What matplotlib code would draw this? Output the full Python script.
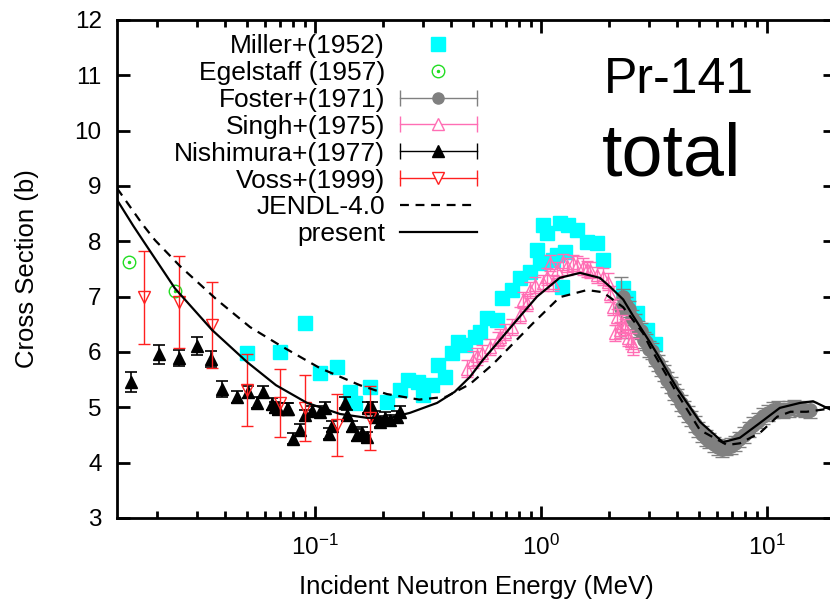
import numpy as np
import matplotlib
matplotlib.use("Agg")
import matplotlib.pyplot as plt
from matplotlib.lines import Line2D
from matplotlib.legend_handler import HandlerTuple, HandlerLine2D
from matplotlib.ticker import LogLocator, NullFormatter, FixedLocator

plt.rcParams['font.family'] = ['Liberation Sans', 'DejaVu Sans']
plt.rcParams['mathtext.fontset'] = 'custom'
plt.rcParams['mathtext.rm'] = 'Liberation Sans'
plt.rcParams['mathtext.it'] = 'Liberation Sans:italic'

# ---------------- data ----------------
miller_E = [0.050, 0.070, 0.090, 0.105, 0.125, 0.143, 0.150, 0.175, 0.208, 0.238,
            0.258, 0.286, 0.301, 0.330, 0.350, 0.376, 0.404, 0.430, 0.461, 0.511,
            0.537, 0.577, 0.638, 0.671, 0.744, 0.807, 0.894, 0.96, 0.99, 1.02,
            1.06, 1.13, 1.18, 1.21, 1.24, 1.28, 1.32, 1.44, 1.60, 1.77,
            1.88, 2.31, 2.43, 2.66, 2.94, 3.19]
miller_s = [5.98, 6.00, 6.52, 5.62, 5.73, 5.28, 5.08, 5.37, 5.10, 5.31,
            5.49, 5.46, 5.22, 5.40, 5.77, 5.55, 5.98, 6.18, 6.13, 6.27,
            6.36, 6.61, 6.58, 6.98, 7.12, 7.34, 7.45, 7.84, 7.61, 8.30,
            8.15, 7.66, 7.75, 8.33, 7.17, 7.81, 8.30, 8.21, 7.99, 7.97,
            7.66, 7.15, 6.98, 6.70, 6.40, 6.15]

egel_E = [0.0150, 0.0240]
egel_s = [7.63, 7.10]

foster_E = [2.25, 2.30, 2.38, 2.45, 2.52, 2.60, 2.68, 2.76, 2.85, 2.93,
            3.02, 3.10, 3.20, 3.30, 3.40, 3.50, 3.62, 3.75, 3.88, 4.00,
            4.15, 4.30, 4.45, 4.60, 4.78, 4.95, 5.15, 5.35, 5.55, 5.80,
            6.05, 6.30, 6.60, 6.90, 7.20, 7.55, 7.90, 8.30, 8.70, 9.10,
            9.60, 10.1, 10.6, 11.2, 11.8, 12.5, 13.2, 14.0, 14.8, 15.5]
foster_s = [6.80, 7.00, 6.85, 6.78, 6.62, 6.55, 6.42, 6.38, 6.22, 6.18,
            6.05, 6.02, 5.88, 5.80, 5.70, 5.62, 5.50, 5.40, 5.28, 5.20,
            5.08, 4.98, 4.88, 4.80, 4.70, 4.60, 4.52, 4.45, 4.40, 4.33,
            4.28, 4.25, 4.27, 4.30, 4.35, 4.42, 4.50, 4.60, 4.68, 4.76,
            4.84, 4.90, 4.95, 4.97, 4.94, 4.97, 5.00, 4.98, 4.96, 4.95]
foster_err = [0.55] + [0.14] * 49

singh_E = [0.47, 0.50, 0.52, 0.548, 0.594, 0.646, 0.659, 0.693, 0.744, 0.807,
           0.83, 0.867, 0.894, 0.94, 1.02, 1.06, 1.10, 1.13, 1.18, 1.25,
           1.30, 1.39, 1.45, 1.53, 1.60, 1.65, 1.77, 1.88, 1.98, 2.02,
           2.08, 2.12, 2.17, 2.24, 2.28, 2.35, 2.42, 2.50, 2.55]
singh_s = [5.70, 5.86, 5.92, 5.98, 6.09, 6.22, 6.27, 6.36, 6.45, 6.67,
           6.94, 6.89, 7.12, 7.21, 7.25, 7.36, 7.61, 7.25, 7.48, 7.63,
           7.55, 7.61, 7.58, 7.54, 7.50, 7.48, 7.39, 7.36, 7.27, 7.05,
           6.81, 6.34, 6.63, 6.40, 6.52, 6.45, 6.25, 6.20, 6.10]
singh_err = [0.15] * 39

nishi_E = [0.0154, 0.0204, 0.0250, 0.0301, 0.0347, 0.0388, 0.0452, 0.0506, 0.0554, 0.0589,
           0.0646, 0.0665, 0.0686, 0.0751, 0.076, 0.080, 0.0859, 0.0904, 0.097, 0.105,
           0.111, 0.115, 0.119, 0.136, 0.139, 0.146, 0.153, 0.161, 0.170, 0.172,
           0.179, 0.184, 0.194, 0.204, 0.215, 0.231, 0.238]
nishi_s = [5.46, 5.96, 5.89, 6.11, 5.87, 5.33, 5.19, 5.28, 5.08, 5.28,
           5.06, 5.00, 4.97, 4.97, 4.97, 4.43, 4.59, 4.86, 4.93, 4.92,
           4.99, 4.52, 4.66, 5.08, 4.86, 4.66, 4.50, 4.54, 4.46, 4.99,
           4.99, 4.83, 4.74, 4.81, 4.77, 4.83, 4.92]
nishi_err = [0.18, 0.17, 0.15, 0.16, 0.14, 0.15, 0.11, 0.11] + [0.10] * 29

voss_E = [0.0175, 0.025, 0.035, 0.050, 0.070, 0.090, 0.125, 0.175]
voss_s = [6.99, 6.90, 6.49, 5.31, 5.08, 4.99, 4.68, 4.81]
voss_err = [0.84, 0.83, 0.78, 0.65, 0.62, 0.60, 0.56, 0.58]

jendl_E = [0.0133, 0.0173, 0.0196, 0.0253, 0.0369, 0.0516, 0.070, 0.105, 0.158, 0.208,
           0.289, 0.380, 0.485, 0.613, 0.922, 1.21, 1.60, 1.88, 2.31, 2.83,
           3.03, 3.99, 5.05, 6.66, 7.59, 9.32, 11.1, 12.7, 15.0, 20.0]
jendl_s = [8.96, 8.30, 8.02, 7.55, 6.94, 6.45, 6.12, 5.71, 5.40, 5.24,
           5.14, 5.19, 5.42, 5.78, 6.52, 6.99, 7.12, 7.08, 6.81, 6.34,
           6.10, 5.26, 4.59, 4.32, 4.35, 4.54, 4.83, 4.92, 4.92, 4.99]

present_E = [0.0133, 0.0157, 0.0173, 0.0240, 0.0350, 0.0500, 0.0672, 0.0922, 0.129, 0.170,
             0.215, 0.263, 0.347, 0.415, 0.485, 0.554, 0.659, 0.783, 0.960, 1.21,
             1.49, 1.82, 2.02, 2.31, 2.55, 3.03, 3.26, 3.99, 5.05, 6.38,
             7.59, 9.32, 11.4, 14.0, 16.0, 20.0]
present_s = [8.75, 8.28, 8.02, 7.15, 6.40, 5.82, 5.40, 5.08, 4.88, 4.81,
             4.81, 4.90, 5.08, 5.28, 5.55, 5.86, 6.22, 6.58, 7.00, 7.34,
             7.43, 7.34, 7.18, 6.95, 6.66, 6.18, 5.97, 5.35, 4.74, 4.37,
             4.45, 4.72, 4.99, 5.08, 5.11, 4.92]

xticks = [0.1, 1.0, 10.0]
xticklabels = [r'$10^{-1}$', r'$10^{0}$', r'$10^{1}$']
yticks = [3, 4, 5, 6, 7, 8, 9, 10, 11, 12]

# ---------------- colours ----------------
C_MILLER = '#00ffff'
C_EGEL = '#22dd22'
C_FOSTER = '#808080'
C_SINGH = '#ff6eb4'
C_NISHI = '#000000'
C_VOSS = '#ff2020'

fig = plt.figure(figsize=(8.3, 6.0), dpi=100)
ax = fig.add_axes([117 / 830, 1 - 518 / 600, (835 - 117) / 830, (518 - 20) / 600])
ax.set_xscale('log')
ax.set_xlim(0.0133, 20.0)
ax.set_ylim(3, 12)

ax.plot(miller_E, miller_s, ls='none', marker='s', ms=9.5, color=C_MILLER, mec=C_MILLER, zorder=2)
ax.plot(egel_E, egel_s, ls='none', marker='o', ms=9, mfc='none', mec=C_EGEL, mew=1, zorder=3)
ax.plot(egel_E, egel_s, ls='none', marker='o', ms=1.5, color=C_EGEL, zorder=3)
ax.errorbar(foster_E, foster_s, yerr=foster_err, fmt='o', ms=9.5, color=C_FOSTER,
            ecolor=C_FOSTER, elinewidth=1, capsize=5, capthick=1, zorder=4)
ax.errorbar(singh_E, singh_s, yerr=singh_err, fmt='^', ms=8, mfc='none', mec=C_SINGH, mew=1,
            ecolor=C_SINGH, elinewidth=1, capsize=4, capthick=1, zorder=5)
ax.errorbar(nishi_E, nishi_s, yerr=nishi_err, fmt='^', ms=9, color=C_NISHI,
            ecolor=C_NISHI, elinewidth=1.2, capsize=4.5, capthick=1.2, zorder=6)
ax.errorbar(voss_E, voss_s, yerr=voss_err, fmt='v', ms=9, mfc='none', mec=C_VOSS, mew=1,
            ecolor=C_VOSS, elinewidth=1, capsize=4.5, capthick=1, zorder=7)
ax.plot(jendl_E, jendl_s, color='k', lw=1.6, ls=(0, (4, 3)), zorder=8)
ax.plot(present_E, present_s, color='k', lw=1.6, ls='-', zorder=9)

# axes styling
for sp in ax.spines.values():
    sp.set_linewidth(2)
ax.xaxis.set_major_locator(FixedLocator(xticks))
ax.set_xticklabels(xticklabels)
ax.xaxis.set_minor_locator(LogLocator(base=10, subs=np.arange(2, 10)))
ax.xaxis.set_minor_formatter(NullFormatter())
ax.set_yticks(yticks)
ax.tick_params(which='both', direction='in', top=True, right=True, width=2)
ax.tick_params(which='major', length=9, labelsize=17.5)
ax.tick_params(which='minor', length=5)
ax.tick_params(axis='x', pad=12)
ax.tick_params(axis='y', pad=11)
ax.set_xlabel('Incident Neutron Energy (MeV)', fontsize=18.5)
ax.set_ylabel('Cross Section (b)', fontsize=18.5)
ax.yaxis.set_label_coords(-0.108, 0.5)
ax.xaxis.set_label_coords(0.5, -0.115)

# legend (gnuplot style: text right aligned, sample on right)
def eb_handle(color, marker, filled, ms):
    bar = Line2D([], [], color=color, lw=1, marker='|', ms=12, mew=1)
    mk = Line2D([], [], ls='none', marker=marker, ms=ms, mec=color,
                mfc=color if filled else 'white', mew=1)
    return (bar, mk), bar

h_miller = Line2D([], [], ls='none', marker='s', ms=9.5, color=C_MILLER)
h_egel = (Line2D([], [], ls='none', marker='o', ms=9, mfc='none', mec=C_EGEL, mew=1),
          Line2D([], [], ls='none', marker='o', ms=1.5, color=C_EGEL))
h_foster, b1 = eb_handle(C_FOSTER, 'o', True, 8)
h_singh, b2 = eb_handle(C_SINGH, '^', False, 9)
h_nishi, b3 = eb_handle(C_NISHI, '^', True, 9)
h_voss, b4 = eb_handle(C_VOSS, 'v', False, 9)
h_jendl = Line2D([], [], color='k', lw=1.6, ls=(0, (4, 3)))
h_present = Line2D([], [], color='k', lw=1.6)

hmap = {tuple: HandlerTuple(ndivide=1)}
for b in (b1, b2, b3, b4):
    hmap[b] = HandlerLine2D(numpoints=2, marker_pad=0)

leg = fig.legend([h_miller, h_egel, h_foster, h_singh, h_nishi, h_voss, h_jendl, h_present],
                 ['Miller+(1952)', 'Egelstaff (1957)', 'Foster+(1971)', 'Singh+(1975)',
                  'Nishimura+(1977)', 'Voss+(1999)', 'JENDL-4.0', 'present'],
                 handler_map=hmap, markerfirst=False, frameon=False, fontsize=19,
                 loc='upper right', bbox_to_anchor=(477 / 830, 1 - 34 / 600),
                 borderpad=0, borderaxespad=0, handlelength=2.92, handletextpad=0.57,
                 labelspacing=0.11, numpoints=1)

fig.text(679 / 830, 1 - 93 / 600, 'Pr-141', fontsize=36, ha='center', va='baseline')
fig.text(672 / 830, 1 - 175 / 600, 'total', fontsize=53, ha='center', va='baseline')

fig.savefig('out.png', dpi=100)
